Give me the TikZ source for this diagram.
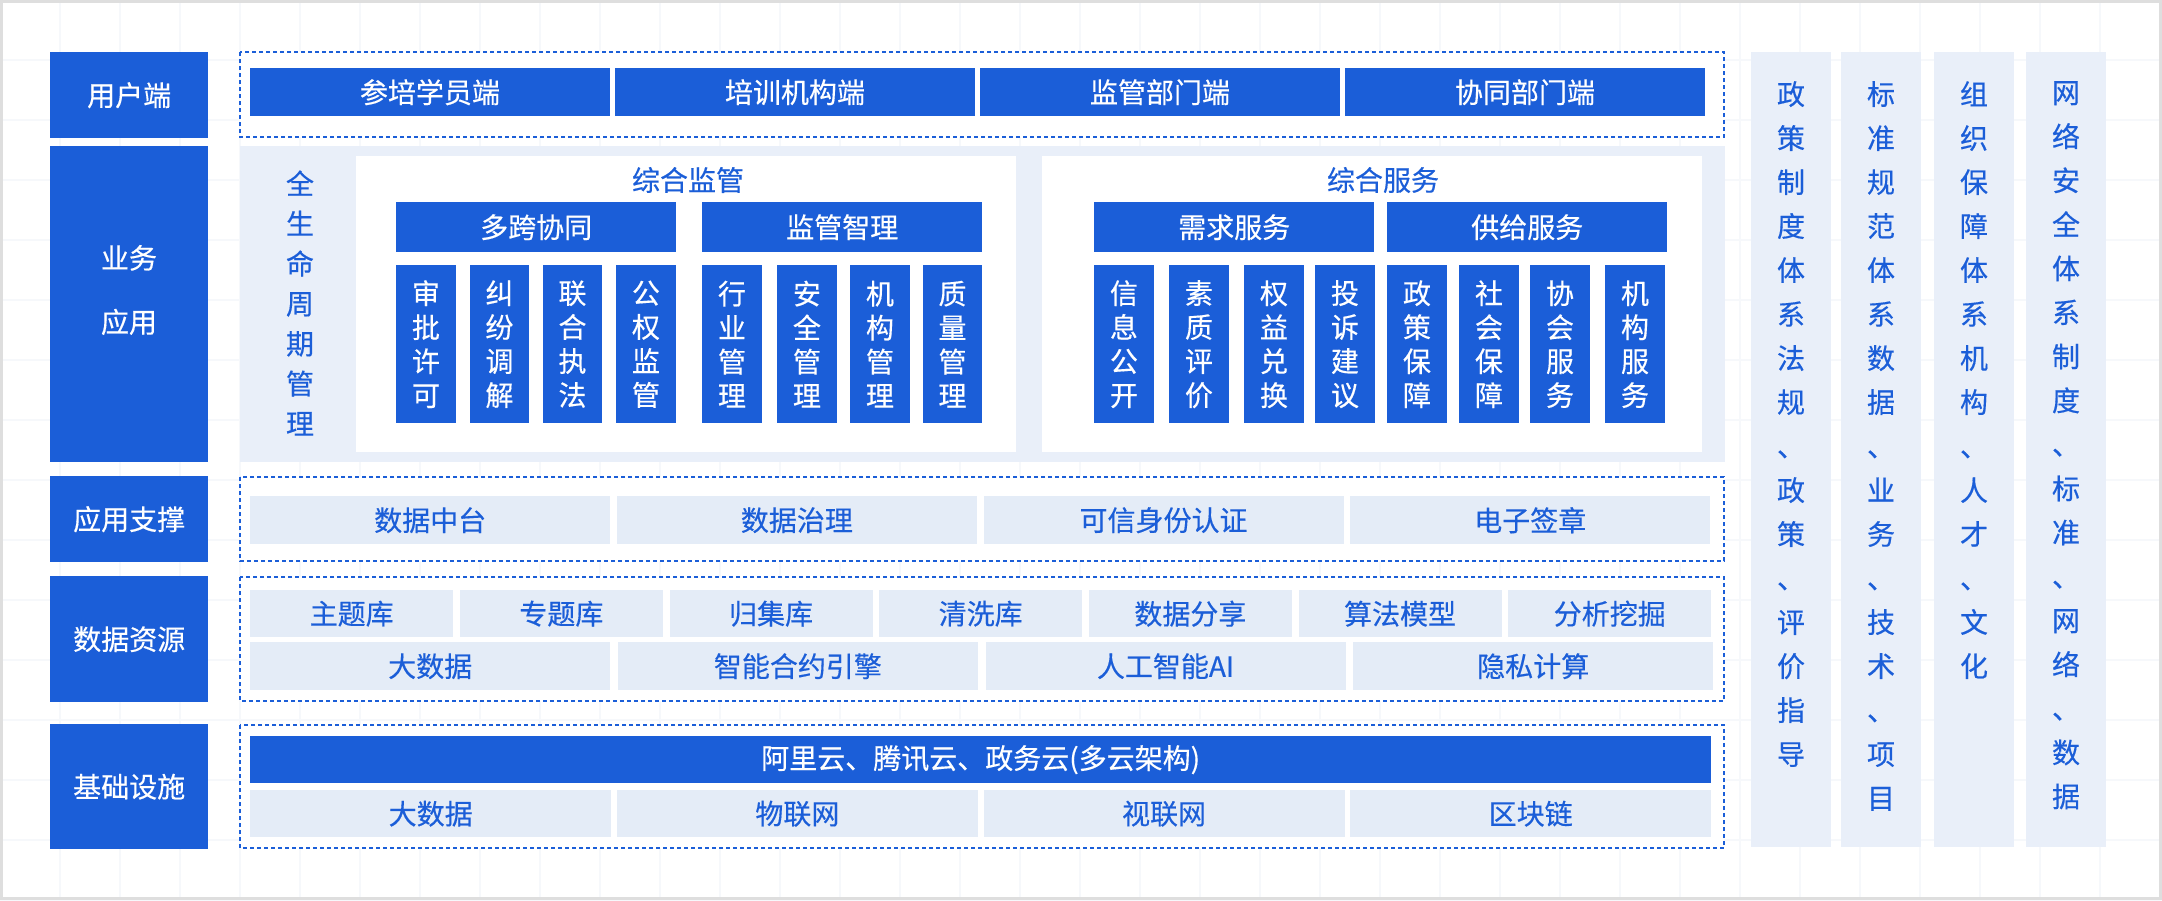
\documentclass[tikz,border=0pt]{standalone}
\usepackage{fontspec}
\setmainfont[FakeBold=0.4,AutoFakeBold=0.4]{Noto Sans CJK SC}
\definecolor{blau}{RGB}{27,94,216}
\definecolor{hellblau}{RGB}{228,236,247}
\definecolor{flaeche}{RGB}{233,239,249}
\definecolor{raster}{RGB}{246,248,251}
\definecolor{rand}{RGB}{222,222,222}
\begin{document}
\begin{tikzpicture}[x=1pt,y=-1pt,
  kasten/.style={fill=blau,text=white,inner sep=0pt,anchor=north west,align=center,
    font=\fontsize{28}{34}\selectfont\bfseries},
  hell/.style={fill=hellblau,text=blau,inner sep=0pt,anchor=north west,align=center,
    font=\fontsize{28}{34}\selectfont\bfseries},
  rahmen/.style={draw=blau,fill=white,line width=2pt,dash pattern=on 4pt off 3pt}]
  \useasboundingbox (0,0) rectangle (2162,900);
  % Hintergrund mit Raster
  \fill[white] (0,0) rectangle (2162,900);
  \foreach \x in {0,60,...,2160} {
    \draw[raster,line width=1.2pt] (\x,0) -- (\x,900);
  }
  \foreach \y in {0,60,...,900} {
    \draw[raster,line width=1.2pt] (0,\y) -- (2162,\y);
  }
  \draw[rand,line width=3pt] (1.5,1.5) rectangle (2160.5,898.5);
  % Ebenen links
  \node[kasten,minimum width=158,minimum height=86] (l1) at (50,52) {用户端};
  \node[kasten,minimum width=158,minimum height=316] (l2) at (50,146) {};
  \node[text=white,font=\fontsize{28}{64}\selectfont\bfseries,align=center,inner sep=0pt] (l2t) at (129,290) {业务\\应用};
  \node[kasten,minimum width=158,minimum height=86] (l3) at (50,476) {应用支撑};
  \node[kasten,minimum width=158,minimum height=126] (l4) at (50,576) {数据资源};
  \node[kasten,minimum width=158,minimum height=125] (l5) at (50,724) {基础设施};
  % Rahmen der Ebenen
  \draw[rahmen] (240,52) rectangle (1724,137);
  \fill[flaeche] (240,146) rectangle (1725,462);
  \draw[rahmen] (240,477) rectangle (1724,561);
  \draw[rahmen] (240,577) rectangle (1724,701);
  \draw[rahmen] (240,725) rectangle (1724,848);
  % Nutzerseiten
  \foreach \t [count=\i from 0] in {参培学员端,培训机构端,监管部门端,协同部门端} {
    \node[kasten,minimum width=359.5,minimum height=48] (u\i) at ({250+365*\i},68) {\t};
  }
  % Geschaeftsanwendung
  \node[text=blau,font=\fontsize{28}{40}\selectfont\bfseries,align=center,inner sep=0pt] (zyk) at (300,303)
    {全\\生\\命\\周\\期\\管\\理};
  \fill[white] (356,156) rectangle (1016,452);
  \fill[white] (1042,156) rectangle (1702,452);
  \node[text=blau,font=\fontsize{28}{34}\selectfont\bfseries,inner sep=0pt] (jg) at (688,180) {综合监管};
  \node[text=blau,font=\fontsize{28}{34}\selectfont\bfseries,inner sep=0pt] (fw) at (1383,180) {综合服务};
  \foreach \x/\t [count=\i] in {396/多跨协同,702/监管智理,1094/需求服务,1387/供给服务} {
    \node[kasten,minimum width=280,minimum height=50] (g\i) at (\x,202) {\t};
  }
  \foreach \x/\t [count=\k] in {396/{审\\批\\许\\可},469.5/{纠\\纷\\调\\解},542.5/{联\\合\\执\\法},616/{公\\权\\监\\管},
      702/{行\\业\\管\\理},777/{安\\全\\管\\理},850/{机\\构\\管\\理},922.5/{质\\量\\管\\理},
      1094/{信\\息\\公\\开},1169/{素\\质\\评\\价},1244/{权\\益\\兑\\换},1315/{投\\诉\\建\\议},
      1387/{政\\策\\保\\障},1459/{社\\会\\保\\障},1530/{协\\会\\服\\务},1605/{机\\构\\服\\务}} {
    \node[kasten,minimum width=59.5,minimum height=158] (s\k) at (\x,265) {\t};
  }
  % Anwendungsunterstuetzung
  \foreach \t [count=\i from 0] in {数据中台,数据治理,可信身份认证,电子签章} {
    \node[hell,minimum width=360,minimum height=48] (a\i) at ({250+366.67*\i},496) {\t};
  }
  % Datenressourcen
  \foreach \t [count=\i from 0] in {主题库,专题库,归集库,清洗库,数据分享,算法模型,分析挖掘} {
    \node[hell,minimum width=203,minimum height=47] (d\i) at ({250+209.67*\i},590) {\t};
  }
  \foreach \t [count=\i from 0] in {大数据,智能合约引擎,人工智能AI,隐私计算} {
    \node[hell,minimum width=360,minimum height=48] (e\i) at ({250+367.67*\i},642) {\t};
  }
  % Infrastruktur
  \node[kasten,minimum width=1461,minimum height=47] (wolke) at (250,736) {阿里云、腾讯云、政务云(多云架构)};
  \foreach \t [count=\i from 0] in {大数据,物联网,视联网,区块链} {
    \node[hell,minimum width=361,minimum height=47] (b\i) at ({250+366.67*\i},790) {\t};
  }
  % Saeulen rechts
  \foreach \x/\t [count=\i] in {1751/{政\\策\\制\\度\\体\\系\\法\\规\\、\\政\\策\\、\\评\\价\\指\\导},
      1841/{标\\准\\规\\范\\体\\系\\数\\据\\、\\业\\务\\、\\技\\术\\、\\项\\目},
      1934/{组\\织\\保\\障\\体\\系\\机\\构\\、\\人\\才\\、\\文\\化},
      2026/{网\\络\\安\\全\\体\\系\\制\\度\\、\\标\\准\\、\\网\\络\\、\\数\\据}} {
    \node[fill=flaeche,minimum width=80,minimum height=795,inner sep=0pt,anchor=north west] (r\i) at (\x,52) {};
    \node[text=blau,font=\fontsize{28}{44}\selectfont\bfseries,align=center,inner sep=0pt,anchor=north] (rt\i) at ({\x+40},81) {\t};
  }
\end{tikzpicture}
\end{document}
